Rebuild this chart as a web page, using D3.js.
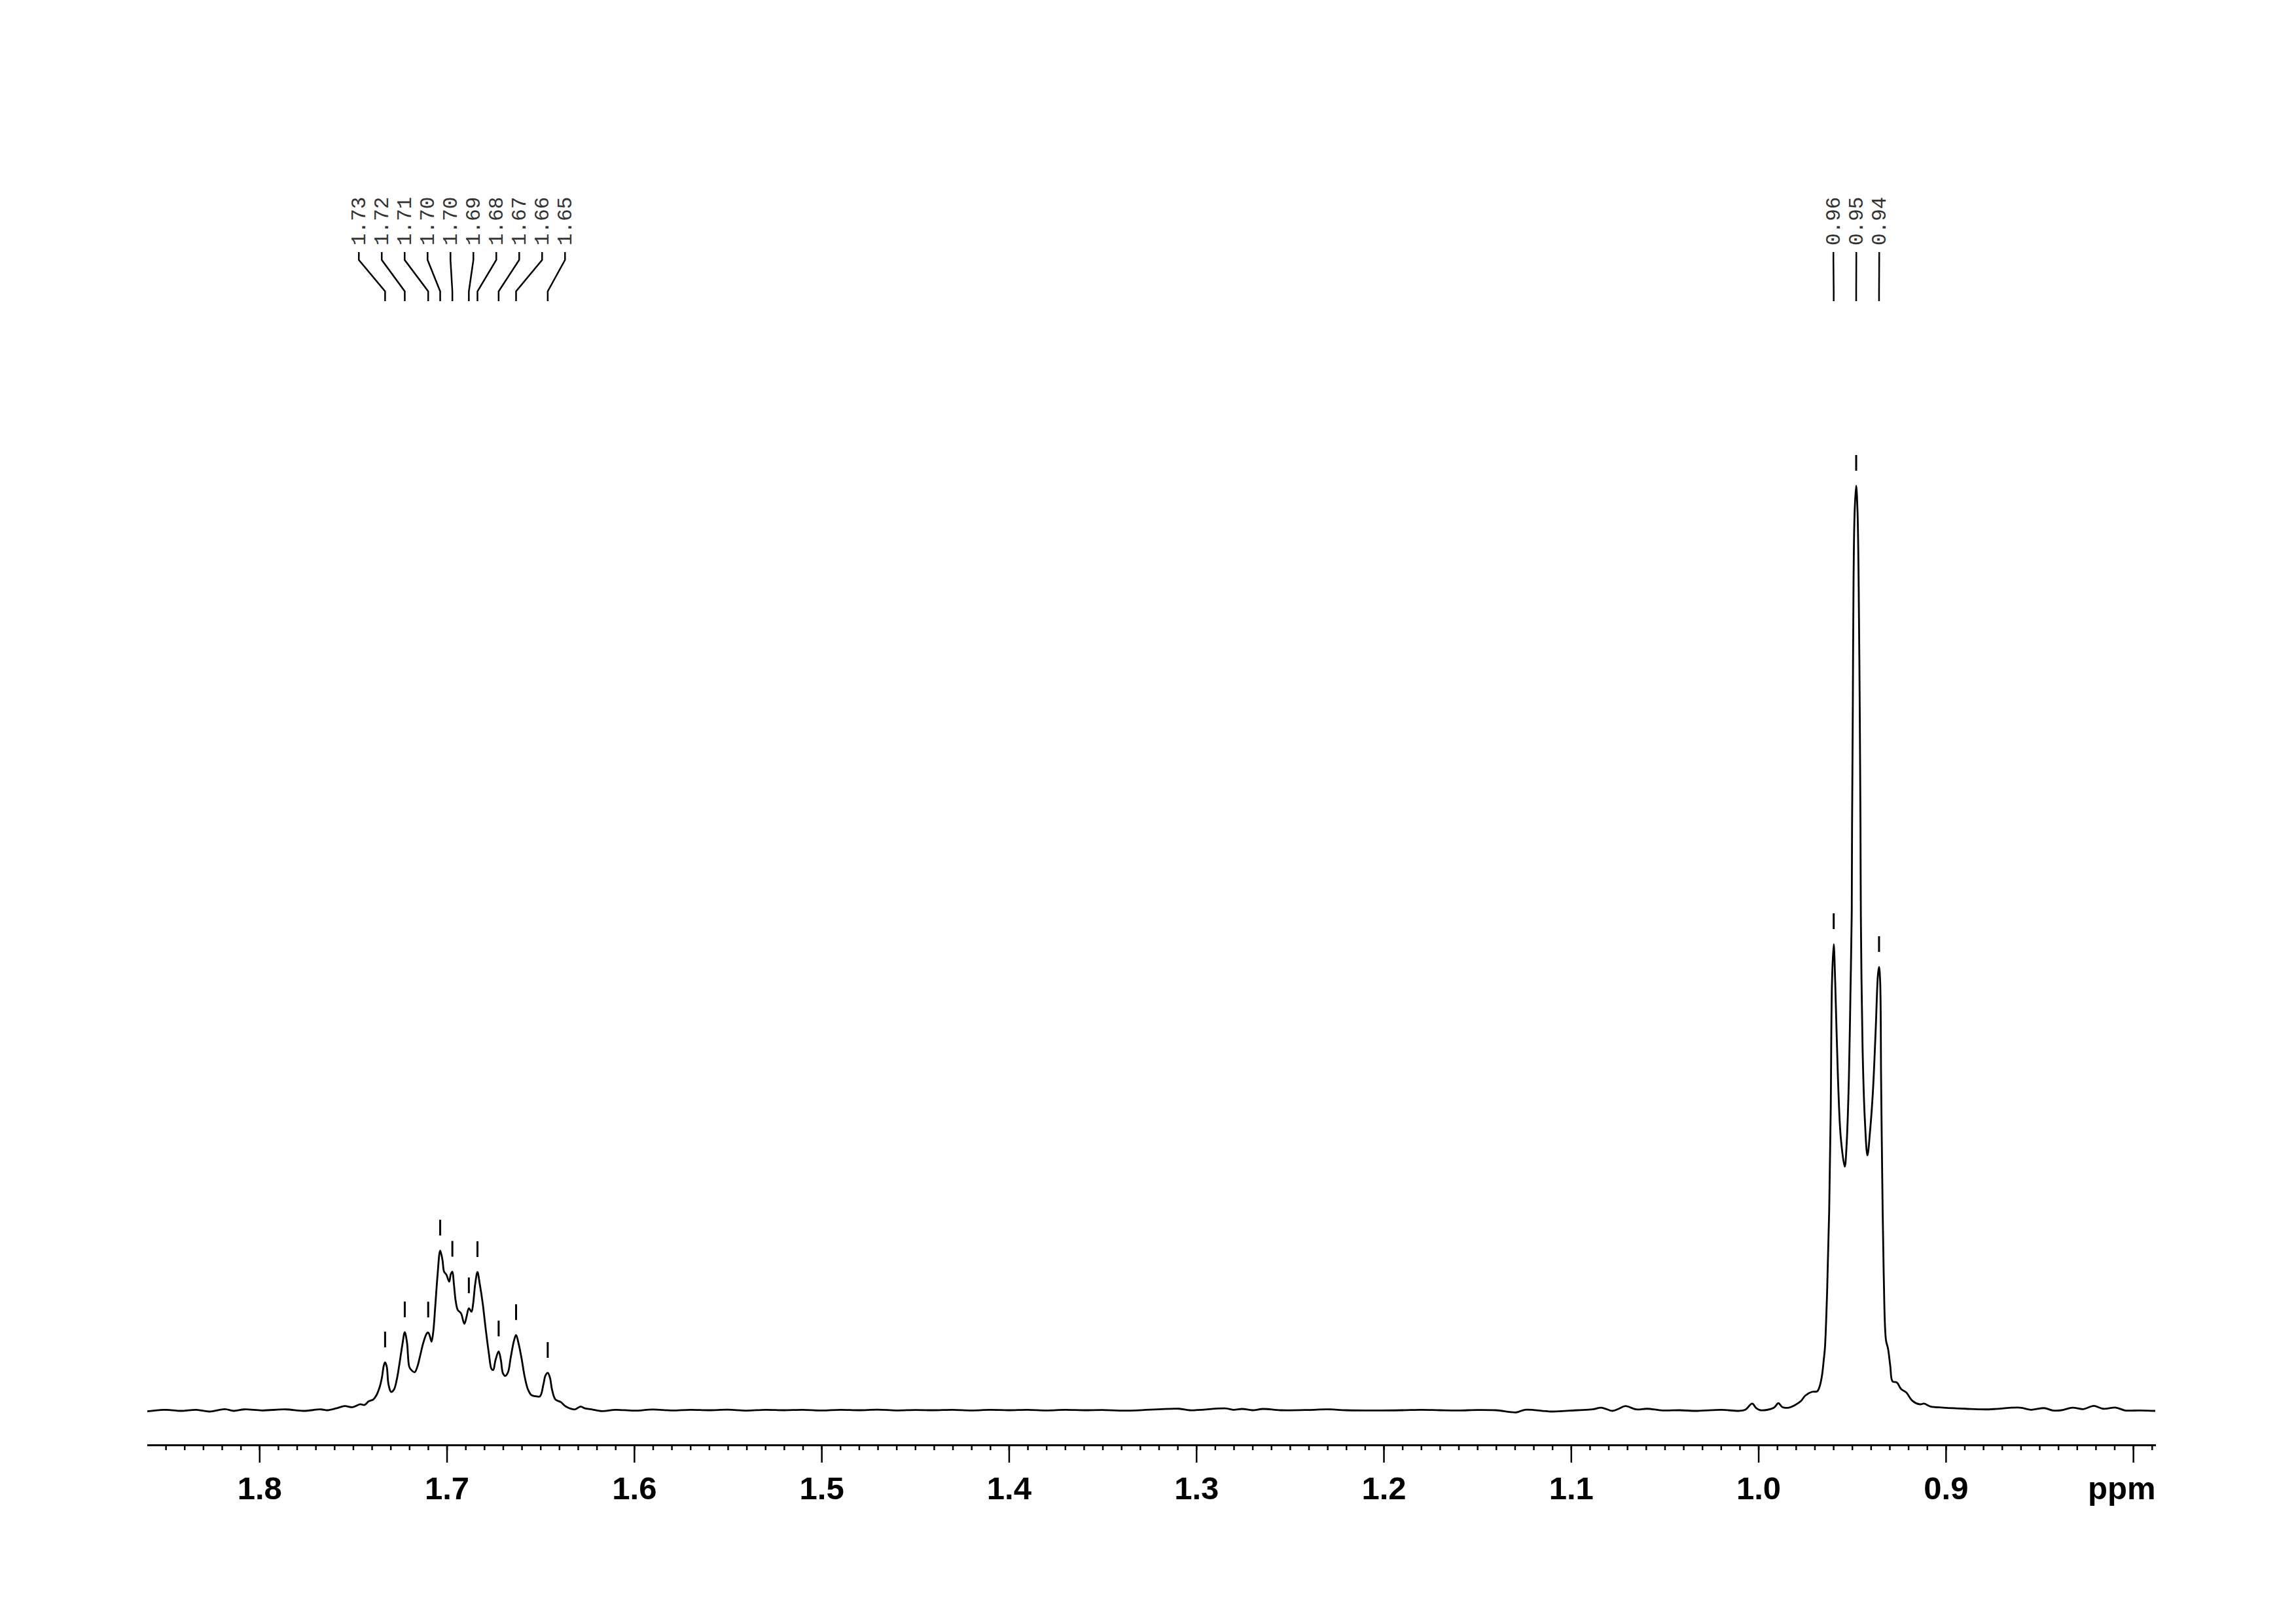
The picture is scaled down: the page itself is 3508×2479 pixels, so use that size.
<!DOCTYPE html>
<html><head><meta charset="utf-8">
<script src="https://cdn.jsdelivr.net/npm/d3@7"></script>
<style>html,body{margin:0;padding:0;background:#fff;} svg{display:block;}</style>
</head><body>
<script>
// ---- DATA ----
const spectrumPpm = [
1.8598,1.8510,1.8417,1.8336,1.8266,1.8184,1.8138,1.8080,1.7986,1.7858,1.7765,1.7672,
1.7637,1.7590,1.7544,1.7503,1.7462,1.7439,1.7416,1.7392,1.7375,1.7357,1.7346,1.7336,1.7329,1.7320,1.7311,1.7297,
1.7282,1.7267,1.7253,1.7237,1.7224,1.7212,1.7200,1.7189,1.7171,1.7157,1.7142,1.7125,1.7107,1.7099,1.7090,1.7081,
1.7072,1.7061,1.7049,1.7035,1.7023,1.7014,1.7002,1.6987,1.6978,1.6970,1.6962,1.6952,1.6941,1.6924,1.6906,1.6894,
1.6882,1.6868,1.6859,1.6848,1.6836,1.6824,1.6808,1.6793,1.6775,1.6761,1.6752,1.6740,1.6723,1.6711,1.6700,1.6688,
1.6673,1.6659,1.6641,1.6630,1.6615,1.6601,1.6583,1.6566,1.6548,1.6525,1.6502,1.6484,1.6473,1.6461,1.6449,1.6438,
1.6420,1.6391,1.6368,1.6345,1.6315,1.6286,1.6263,1.6228,1.6170,
1.610,1.600,1.590,1.580,1.570,1.560,1.550,1.540,1.530,1.520,1.510,1.500,1.490,1.480,1.470,1.460,1.450,1.440,
1.430,1.420,1.410,1.400,1.390,1.380,1.370,1.360,1.350,1.3375,1.3091,1.3035,1.2846,1.2800,1.2754,1.2700,1.2643,
1.2550,1.2400,1.2300,1.2200,1.2050,1.1900,1.1800,1.1700,1.1600,1.1500,1.1400,1.1292,1.1246,1.1106,1.0966,1.0885,
1.0838,1.0780,1.0745,1.0710,1.0652,1.0594,1.0512,1.0419,1.0326,1.0198,1.0105,1.0070,1.0033,1.0012,0.9989,0.9919,
0.9893,0.9872,0.9837,0.9808,0.9773,0.9750,0.9715,0.9686,0.9672,0.9660,0.9651,0.9645,0.9633,0.9622,0.9614,0.9607,
0.9598,0.9590,0.9575,0.9560,0.9539,0.9529,0.9517,0.9509,0.9502,0.9500,0.9496,0.9492,0.9486,0.9478,0.9471,0.9465,
0.9459,0.9455,0.9453,0.9444,0.9432,0.9418,0.9404,0.9389,0.9374,0.9362,0.9356,0.9350,0.9345,0.9339,0.9331,0.9319,
0.9308,0.9296,0.9284,0.9261,0.9238,0.9211,0.9179,0.9139,0.9115,0.9081,0.9011,0.8894,0.8778,0.8603,0.8545,0.8475,
0.8429,0.8382,0.8324,0.8266,0.8210,0.8161,0.8091,0.8044,0.7963,0.7882
];
const spectrumIntensity = [
-0.12,0.05,-0.07,0.05,-0.14,0.12,-0.07,0.09,-0.02,0.09,-0.07,0.09,
0.0,0.2,0.45,0.33,0.64,0.57,0.97,1.16,1.63,2.57,3.52,4.82,5.17,4.70,2.81,1.98,
2.22,3.28,4.94,7.07,8.43,7.30,4.70,4.35,4.11,4.70,5.88,7.30,8.29,8.41,8.01,7.42,
8.48,11.32,14.62,17.27,16.28,14.98,14.67,13.91,14.74,14.98,13.68,11.79,10.84,10.49,9.35,10.13,
11.03,10.65,11.55,13.68,14.95,13.68,11.55,8.95,6.12,4.46,4.35,5.41,6.36,5.41,3.99,3.71,
4.11,5.65,7.53,8.13,7.07,5.65,3.52,2.22,1.63,1.51,1.51,2.81,3.76,4.04,3.52,2.22,
1.16,0.87,0.45,0.21,0.09,0.40,0.21,0.10,-0.10,
0.05,-0.05,0.08,-0.03,0.05,0.0,0.06,-0.04,0.05,0.0,0.04,-0.03,0.05,0.0,0.06,-0.02,0.03,0.0,
0.05,-0.02,0.04,0.0,0.05,-0.02,0.04,0.0,0.03,-0.05,0.16,0.0,0.20,0.05,0.14,0.0,0.14,
0.0,0.03,0.10,0.0,-0.03,0.0,0.05,0.0,-0.03,0.03,0.0,-0.23,0.05,-0.14,0.0,0.09,
0.28,-0.07,0.16,0.45,0.09,0.16,-0.02,0.0,-0.07,0.05,-0.07,0.05,0.71,0.24,0.0,0.24,
0.76,0.33,0.28,0.52,0.99,1.58,1.98,2.05,2.64,3.82,5.47,6.66,12.89,21.67,32.26,46.35,
50.42,46.35,35.78,29.46,26.35,28.75,35.78,44.62,53.40,63.17,75.85,89.94,97.31,100,97.31,89.94,
75.85,63.17,53.40,39.31,31.55,27.57,30.17,34.37,41.08,47.06,47.95,46.35,35.78,25.21,14.66,7.58,
6.66,4.77,3.12,3.00,2.29,1.93,1.04,0.64,0.71,0.40,0.28,0.16,0.09,0.28,0.05,0.23,
-0.02,0.0,0.28,0.12,0.47,0.16,0.28,-0.02,-0.02,-0.07
];
const peakPpm = [1.7329,1.7224,1.7099,1.7035,1.6970,1.6882,1.6836,1.6723,1.6630,1.6461,0.9598,0.9478,0.9356];
const peakLabels = ["1.73","1.72","1.71","1.70","1.70","1.69","1.68","1.67","1.66","1.65","0.96","0.95","0.94"];
const majorTicks = [1.8,1.7,1.6,1.5,1.4,1.3,1.2,1.1,1.0,0.9,0.8];
const majorTickLabels = ["1.8","1.7","1.6","1.5","1.4","1.3","1.2","1.1","1.0","0.9",""];
const axisUnit = "ppm";
const ppmDomain = [1.8600, 0.7880];

// ---- DRAWING ----
const W = 3508, H = 2479;
const svg = d3.select("body").append("svg").attr("width", W).attr("height", H);
svg.append("rect").attr("width", W).attr("height", H).attr("fill", "#fff");

const x = d3.scaleLinear().domain(ppmDomain).range([224.5, 3293.5]);
const y = d3.scaleLinear().domain([0, 100]).range([2154, 742]);
const axisY = 2207;

const spectrum = spectrumPpm.map((p, i) => [p, spectrumIntensity[i]]);
const line = d3.line().x(d => x(d[0])).y(d => y(d[1])).curve(d3.curveCatmullRom.alpha(0.5));
svg.append("path").datum(spectrum).attr("d", line)
  .attr("fill", "none").attr("stroke", "#000").attr("stroke-width", 2.8).attr("stroke-linejoin", "round");

// axis: minor ticks
const minorVals = d3.range(79, 186).map(d => d / 100);
const minorAxis = d3.axisBottom(x).tickValues(minorVals).tickSize(8).tickSizeOuter(0).tickFormat("");
const gMinor = svg.append("g").attr("transform", `translate(0,${axisY})`).call(minorAxis);
gMinor.select(".domain").attr("stroke", "#000").attr("stroke-width", 3);
gMinor.selectAll(".tick line").attr("stroke", "#000").attr("stroke-width", 2.5);

// axis: major ticks and labels
const majorAxis = d3.axisBottom(x).tickValues(majorTicks).tickSize(27).tickSizeOuter(0)
  .tickFormat((d, i) => majorTickLabels[i]);
const gMajor = svg.append("g").attr("transform", `translate(0,${axisY})`).call(majorAxis);
gMajor.select(".domain").remove();
gMajor.selectAll(".tick line").attr("stroke", "#000").attr("stroke-width", 2.5);
gMajor.selectAll(".tick text").attr("y", 83).attr("dy", 0)
  .attr("font-family", "'Liberation Sans', Arial, Helvetica, sans-serif")
  .attr("font-weight", "bold").attr("font-size", 49).attr("fill", "#000");

svg.append("text").attr("x", x(ppmDomain[1])).attr("y", axisY + 83)
  .attr("text-anchor", "end")
  .attr("font-family", "'Liberation Sans', Arial, Helvetica, sans-serif")
  .attr("font-weight", "bold").attr("font-size", 49).attr("fill", "#000")
  .text(axisUnit);

// peak labels
function spread(xs, gap) {
  const items = xs.map((v, i) => ({ v, i })).sort((a, b) => a.v - b.v);
  let clusters = items.map(it => ({ members: [it], center: it.v }));
  let changed = true;
  while (changed) {
    changed = false;
    for (let k = 0; k < clusters.length - 1; k++) {
      const a = clusters[k], b = clusters[k + 1];
      const aEnd = a.center + (a.members.length - 1) / 2 * gap;
      const bStart = b.center - (b.members.length - 1) / 2 * gap;
      if (bStart - aEnd < gap - 1e-6) {
        const members = a.members.concat(b.members);
        clusters.splice(k, 2, { members, center: d3.mean(members, m => m.v) });
        changed = true; break;
      }
    }
  }
  const out = new Array(xs.length);
  clusters.forEach(c => c.members.forEach((m, j) => {
    out[m.i] = c.center + (j - (c.members.length - 1) / 2) * gap;
  }));
  return out;
}

const peakX = peakPpm.map(p => x(p));
const labelX = spread(peakX, 35);
const peakTopY = peakPpm.map(p => {
  let best = 0, bd = Infinity;
  spectrumPpm.forEach((q, i) => { const d = Math.abs(q - p); if (d < bd) { bd = d; best = i; } });
  return y(spectrumIntensity[best]);
});

const gLab = svg.append("g");
peakPpm.forEach((p, i) => {
  const px = peakX[i], lx = labelX[i];
  gLab.append("path")
    .attr("d", `M${lx},385 L${lx},397 L${px},445 L${px},460`)
    .attr("fill", "none").attr("stroke", "#000").attr("stroke-width", 2.5);
  gLab.append("text")
    .attr("transform", `translate(${lx + 10},375) rotate(-90)`)
    .attr("font-family", "'Liberation Mono', 'DejaVu Sans Mono', monospace")
    .attr("font-size", 31).attr("fill", "#333")
    .text(peakLabels[i]);
  gLab.append("line")
    .attr("x1", px).attr("x2", px)
    .attr("y1", peakTopY[i] - 47).attr("y2", peakTopY[i] - 23)
    .attr("stroke", "#000").attr("stroke-width", 3);
});
</script>
</body></html>
